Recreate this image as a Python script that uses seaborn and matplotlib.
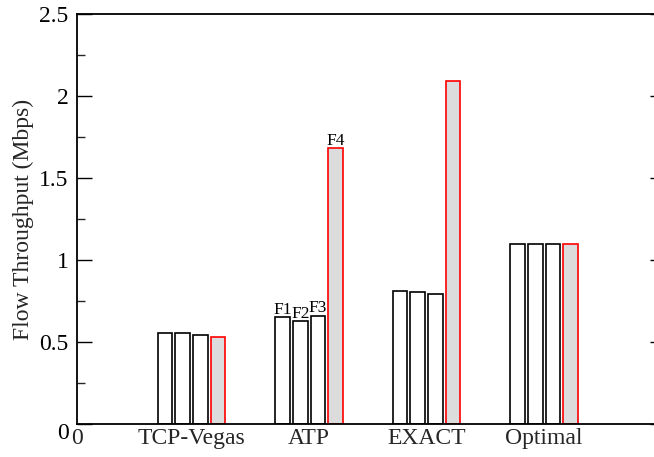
import matplotlib
matplotlib.use("Agg")
import matplotlib.pyplot as plt
import matplotlib.transforms as mtransforms
import seaborn as sns
import pandas as pd
from matplotlib.ticker import MultipleLocator

# ---- data ----
categories = ["TCP-Vegas", "ATP", "EXACT", "Optimal"]
flows = ["F1", "F2", "F3", "F4"]
f1 = [0.553, 0.651, 0.809, 1.096]
f2 = [0.553, 0.626, 0.803, 1.096]
f3 = [0.543, 0.659, 0.791, 1.096]
f4 = [0.532, 1.681, 2.090, 1.096]
annotated_group = "ATP"
y_ticks = [0, 0.5, 1, 1.5, 2, 2.5]
y_tick_labels = ["0", "0.5", "1", "1.5", "2", "2.5"]

df = pd.DataFrame({
    "category": [c for c in categories for _ in flows],
    "flow": flows * len(categories),
    "value": [v for vals in zip(f1, f2, f3, f4) for v in vals],
})

sns.set_theme(style="white")
plt.rcParams["font.family"] = ["Liberation Serif", "DejaVu Serif"]

fig = plt.figure(figsize=(6.54, 4.57), dpi=100)
ax = fig.add_axes([77 / 654, 33 / 457, 587.5 / 654, 410 / 457])

face = {"F1": "white", "F2": "white", "F3": "white", "F4": "#dcdcdc"}
sns.barplot(data=df, x="category", y="value", hue="flow", order=categories,
            hue_order=flows, palette=face, width=0.6, gap=0.1667,
            dodge=True, saturation=1, legend=False, ax=ax, errorbar=None)

edge = {"F1": "black", "F2": "black", "F3": "black", "F4": "red"}
for cont, fl in zip(ax.containers, flows):
    for p in cont:
        p.set_edgecolor(edge[fl])
        p.set_linewidth(1.2)

# annotations on ATP group
gi = categories.index(annotated_group)
for cont, fl in zip(ax.containers, flows):
    p = cont[gi]
    cx = p.get_x() + p.get_width() / 2
    ax.text(cx, p.get_height() + 0.022, fl, ha="center", va="baseline",
            fontsize=12.5, color="black")

# axes styling
ax.set_xlim(-0.975, 4.025)
ax.set_ylim(0, 2.5)
ax.set_xticks([-0.975, 0, 1, 2, 3])
ax.set_xticklabels(["0"] + categories, fontsize=17)
ax.tick_params(axis="x", length=0, pad=3)
ax.set_yticks(y_ticks)
ax.set_yticklabels(y_tick_labels, fontsize=17)
ax.yaxis.set_minor_locator(MultipleLocator(0.25))
ax.tick_params(axis="y", which="major", direction="in", length=11, width=1,
               right=True, left=True, pad=6, colors="black")
ax.tick_params(axis="y", which="minor", direction="in", length=6, width=1,
               right=True, left=True)
ax.set_xlabel("")
ax.set_ylabel("Flow Throughput (Mbps)", fontsize=17, labelpad=4)
for s in ax.spines.values():
    s.set_visible(True)
    s.set_color("black")
    s.set_linewidth(1.3)

# shift the y "0" label slightly down (as in the original)
lbl0 = ax.get_yticklabels()[0]
lbl0.set_transform(lbl0.get_transform() +
                   mtransforms.ScaledTranslation(0, -7 / 100, fig.dpi_scale_trans))

fig.savefig("out.png", dpi=100)
